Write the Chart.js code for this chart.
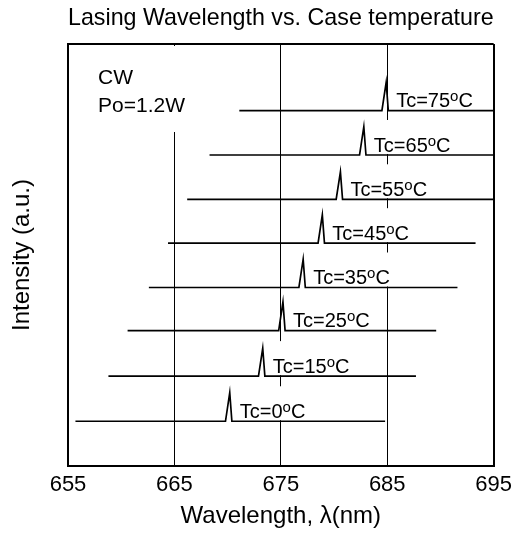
<!DOCTYPE html>
<html>
<head>
<meta charset="utf-8">
<script src="https://cdn.jsdelivr.net/npm/chart.js@4"></script>
<style>
  html, body { margin: 0; padding: 0; background: #fff; }
  #wrap { width: 518px; height: 541px; }
</style>
</head>
<body>
<div id="wrap"><canvas id="specChart"></canvas></div>
<script>
// case temperatures (°C) and the spectrum
const temps = [0, 15, 25, 35, 45, 55, 65, 75];
const peakNm = [670.2, 673.3, 675.2, 677.1, 678.9, 680.6, 682.8, 684.9];
const startNm = [655.7, 658.8, 660.6, 662.6, 664.4, 666.2, 668.3, 671.1];
const endNm = [684.8, 687.7, 689.6, 691.6, 693.3, 695, 695, 695];
const baseLevel = [1.06, 2.13, 3.21, 4.23, 5.28, 6.32, 7.37, 8.42];
const peakHeight = [0.68, 0.66, 0.68, 0.67, 0.67, 0.65, 0.67, 0.67];
const xTicks = [655, 665, 675, 685, 695];

const FONT = "'Liberation Sans', Arial, Helvetica, sans-serif";

// ----- build one trace per temperature -----
const datasets = temps.map((t, i) => ({
  label: 'Tc=' + t + '°C',
  data: [
    { x: startNm[i], y: baseLevel[i] },
    { x: peakNm[i] - 0.4, y: baseLevel[i] },
    { x: peakNm[i], y: baseLevel[i] + peakHeight[i] },
    { x: peakNm[i] + 0.2, y: baseLevel[i] },
    { x: endNm[i], y: baseLevel[i] }
  ],
  borderColor: '#000',
  borderWidth: 1.7,
  pointRadius: 0,
  tension: 0,
  fill: false
}));

// ----- labels and note, with white boxes that hide the grid behind them -----
function labelParts(i) {
  return { main: 'Tc=' + temps[i], sup: 'o', tail: 'C' };
}

const annotate = {
  id: 'annotate',
  beforeDatasetsDraw(chart) {
    const { ctx, chartArea, scales: { x, y } } = chart;
    ctx.save();
    ctx.fillStyle = '#fff';
    ctx.fillRect(chartArea.left + 20, chartArea.top + 2, 115, 86);
    temps.forEach((t, i) => {
      const p = labelParts(i);
      const tx = x.getPixelForValue(peakNm[i]) + 10;
      const by = y.getPixelForValue(baseLevel[i]);
      ctx.font = '20px ' + FONT;
      let w = ctx.measureText(p.main).width + ctx.measureText(p.tail).width;
      ctx.font = '16px ' + FONT;
      w += ctx.measureText(p.sup).width;
      ctx.fillRect(tx - 3, by - 35, w + 6, 34);
    });
    ctx.restore();
  },
  afterDatasetsDraw(chart) {
    const { ctx, chartArea, scales: { x, y } } = chart;
    ctx.save();
    ctx.fillStyle = '#000';
    ctx.textBaseline = 'alphabetic';
    ctx.textAlign = 'left';
    ctx.font = '21px ' + FONT;
    ctx.fillText('CW', chartArea.left + 30, chartArea.top + 40);
    ctx.fillText('Po=1.2W', chartArea.left + 30, chartArea.top + 68);

    temps.forEach((t, i) => {
      const p = labelParts(i);
      let tx = x.getPixelForValue(peakNm[i]) + 10;
      const by = y.getPixelForValue(baseLevel[i]) - 3.4;
      ctx.font = '20px ' + FONT;
      ctx.fillText(p.main, tx, by);
      tx += ctx.measureText(p.main).width;
      ctx.font = '15px ' + FONT;
      ctx.fillText(p.sup, tx, by - 6);
      tx += ctx.measureText(p.sup).width;
      ctx.font = '20px ' + FONT;
      ctx.fillText(p.tail, tx, by);
    });
    ctx.restore();
  }
};

const ctx = document.getElementById('specChart').getContext('2d');

new Chart(ctx, {
  type: 'line',
  data: { datasets },
  plugins: [annotate],
  options: {
    responsive: true,
    maintainAspectRatio: false,
    animation: false,
    layout: { padding: { left: 0, right: 22, top: 0, bottom: 0 } },
    plugins: {
      legend: { display: false },
      tooltip: { enabled: false },
      title: {
        display: true,
        fullSize: false,
        text: 'Lasing Wavelength vs. Case temperature',
        color: '#000',
        font: { family: FONT, size: 24, weight: 'normal' },
        padding: { top: 4, bottom: 11.2 }
      }
    },
    scales: {
      x: {
        type: 'linear',
        min: xTicks[0],
        max: xTicks[xTicks.length - 1],
        afterBuildTicks: (s) => { s.ticks = xTicks.map(v => ({ value: v })); },
        afterFit: (s) => { s.height = 75; },
        ticks: {
          color: '#000',
          font: { family: FONT, size: 22 },
          padding: 6,
          maxRotation: 0,
          autoSkip: false
        },
        grid: {
          color: '#000',
          lineWidth: (c) => (c.tick && (c.tick.value === 655 || c.tick.value === 695)) ? 2 : 1,
          drawTicks: false
        },
        border: { display: true, color: '#000', width: 2 },
        title: {
          display: true,
          text: 'Wavelength, λ(nm)',
          color: '#000',
          font: { family: FONT, size: 24 },
          padding: { top: 0, bottom: 10 }
        }
      },
      y: {
        min: 0,
        max: 10,
        afterBuildTicks: (s) => { s.ticks = [{ value: 0 }, { value: 10 }]; },
        afterFit: (s) => { s.width = 68; },
        ticks: { display: false },
        grid: {
          color: (c) => (c.tick && c.tick.value === 10) ? '#000' : 'transparent',
          lineWidth: 2,
          drawTicks: false
        },
        border: { display: true, color: '#000', width: 2 },
        title: {
          display: true,
          text: 'Intensity (a.u.)',
          color: '#000',
          font: { family: FONT, size: 24 },
          padding: { top: 8, bottom: 0 }
        }
      }
    }
  }
});
</script>
</body>
</html>
